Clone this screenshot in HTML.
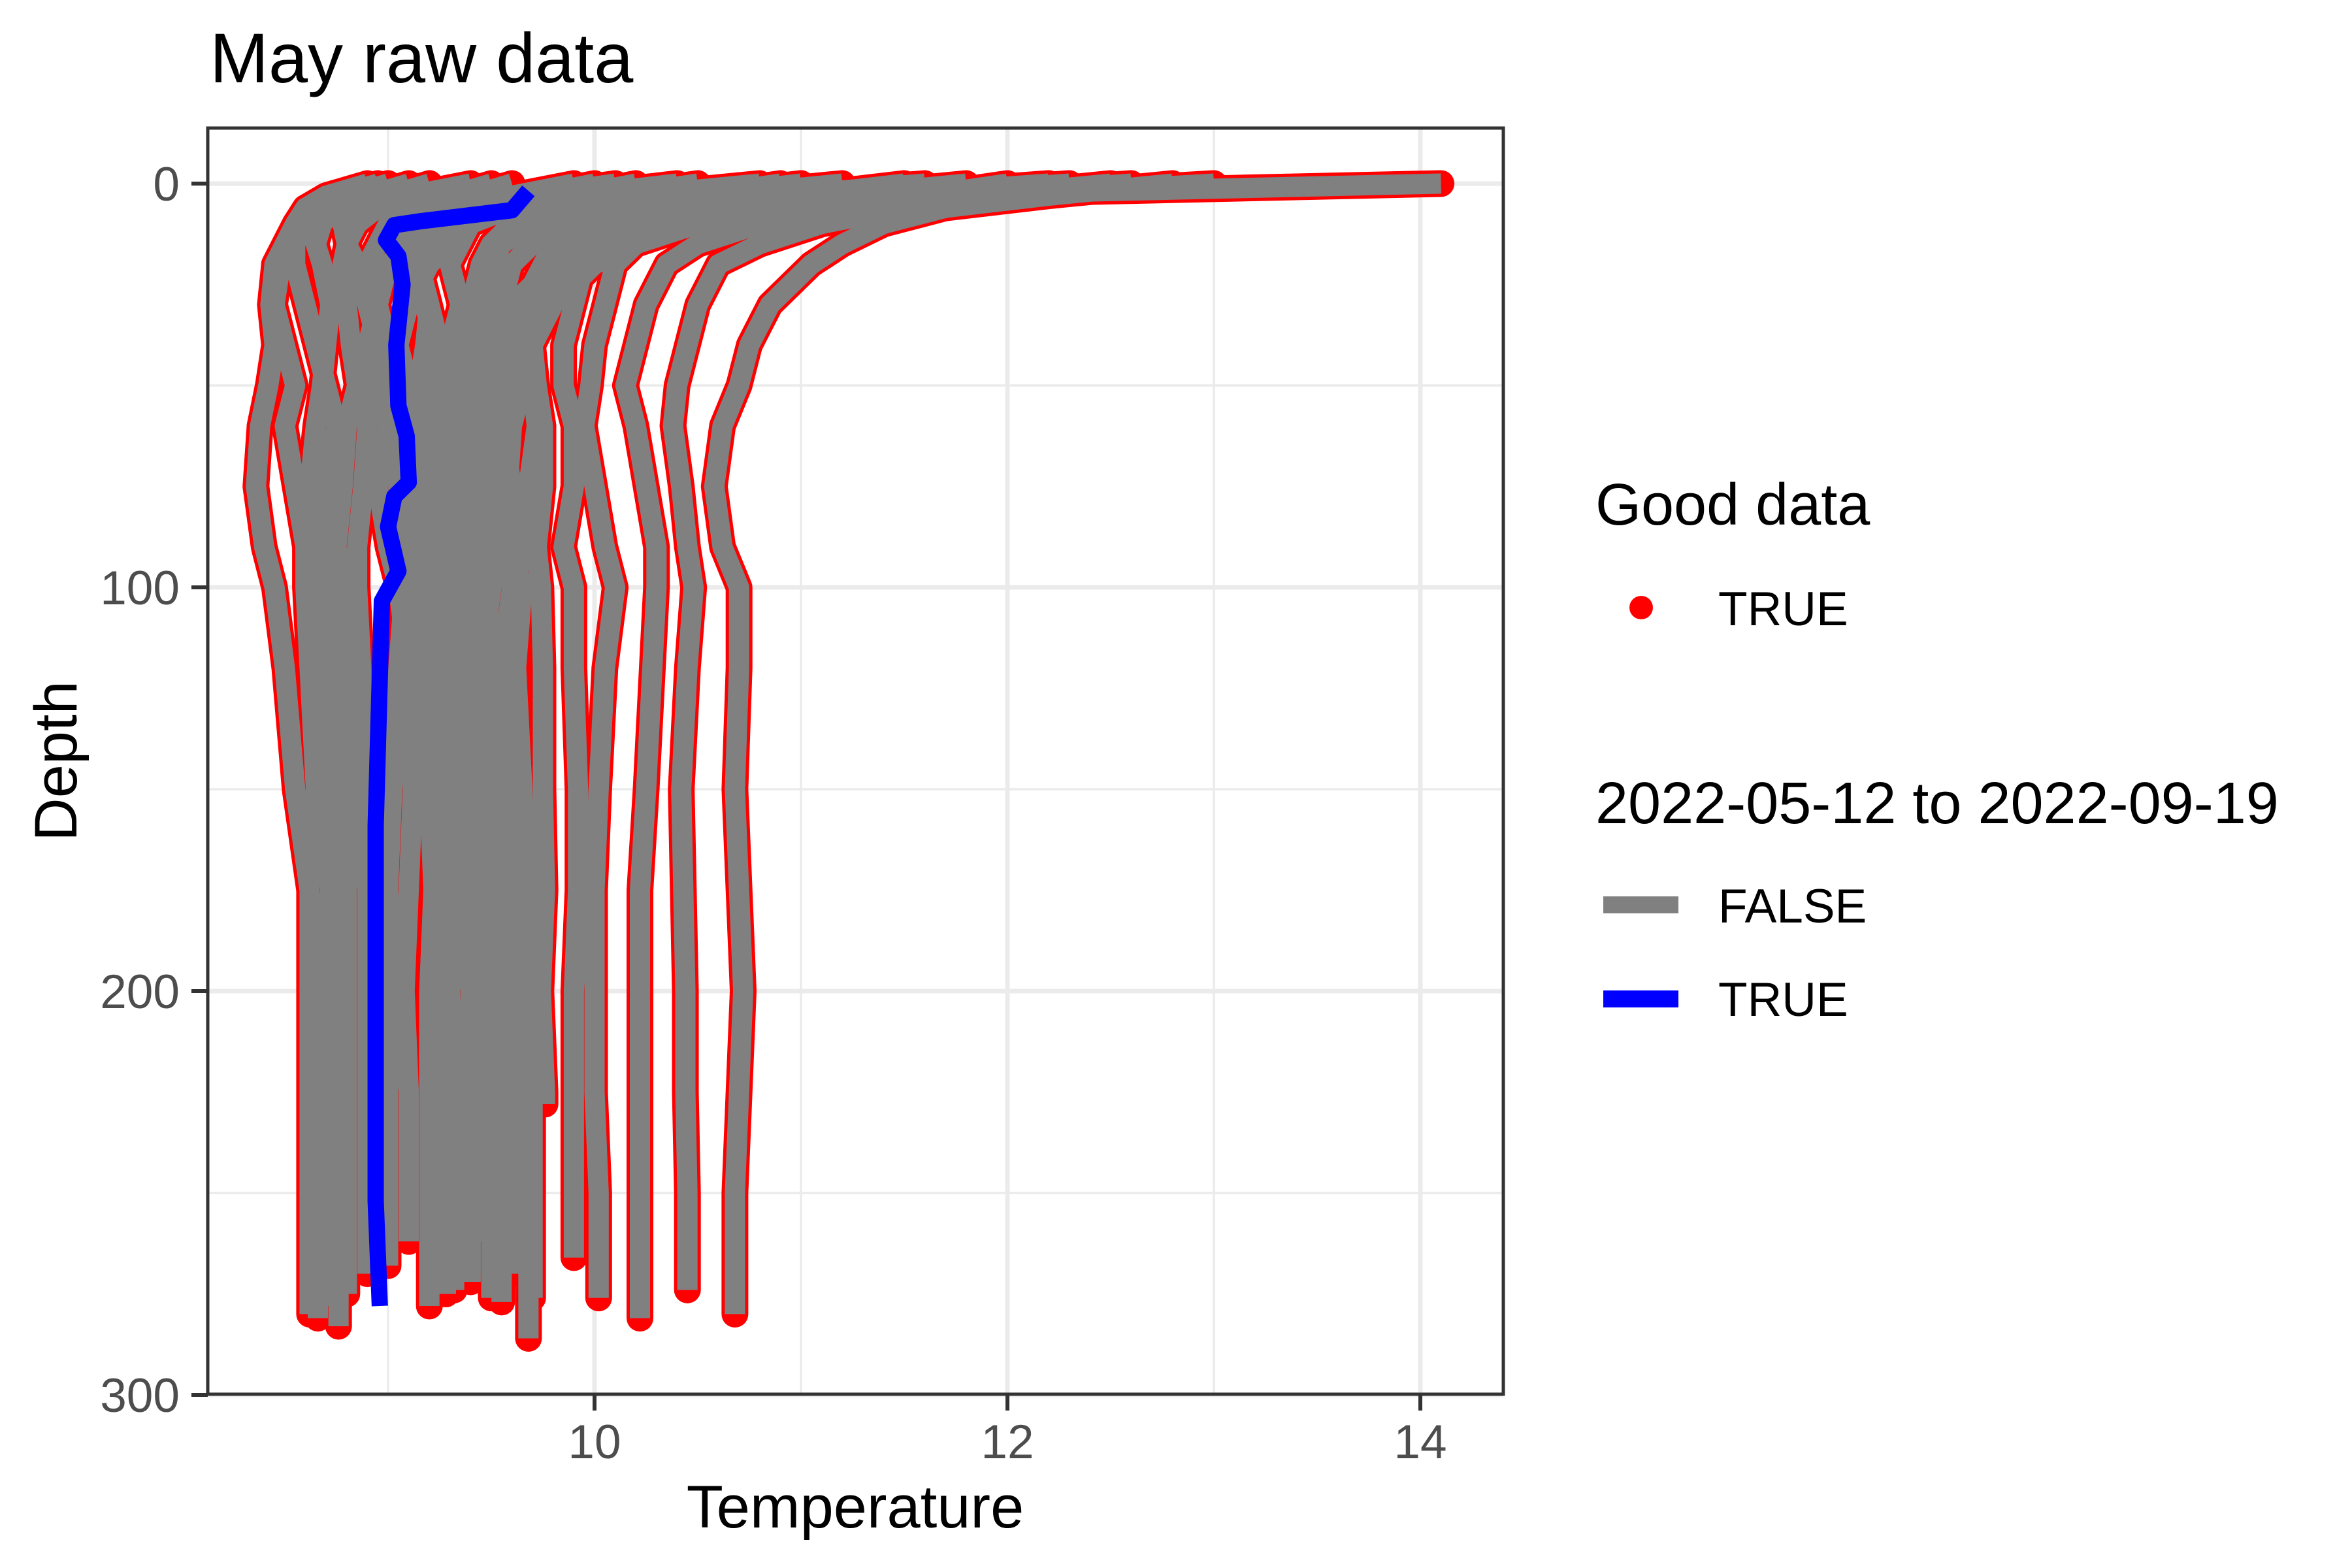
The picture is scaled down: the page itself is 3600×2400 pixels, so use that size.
<!DOCTYPE html>
<html><head><meta charset="utf-8"><style>
html,body{margin:0;padding:0;background:#fff;}
svg{display:block;font-family:"Liberation Sans",Arial,sans-serif;}
</style></head><body>
<svg id="chart" width="3600" height="2400" viewBox="0 0 3600 2400" xmlns="http://www.w3.org/2000/svg">
<rect width="3600" height="2400" fill="#fff"/>
<text x="321" y="126" font-size="108" fill="#000">May raw data</text>
<defs><clipPath id="pc"><rect x="318" y="196" width="1983" height="1938"/></clipPath></defs>
<rect x="318" y="196" width="1983" height="1938" fill="#fff"/>
<g id="grid"></g>
<g id="marks" clip-path="url(#pc)"></g>
<rect x="318" y="196" width="1983" height="1938" fill="none" stroke="#333" stroke-width="5"/>
<g id="axes"></g>
<text x="1309" y="2338" font-size="92" text-anchor="middle" fill="#000">Temperature</text>
<text transform="translate(117,1165) rotate(-90)" font-size="92" text-anchor="middle" fill="#000">Depth</text>
<g>
<text x="2442" y="803" font-size="90" fill="#000">Good data</text>
<circle cx="2512" cy="930" r="18" fill="#ff0000"/>
<text x="2630" y="957" font-size="73" fill="#000">TRUE</text>
<text x="2442" y="1260" font-size="90" fill="#000">2022-05-12 to 2022-09-19</text>
<rect x="2454" y="1372" width="115" height="26" fill="#808080"/>
<text x="2630" y="1412" font-size="73" fill="#000">FALSE</text>
<rect x="2454" y="1516" width="115" height="26" fill="#0000ff"/>
<text x="2630" y="1555" font-size="73" fill="#000">TRUE</text>
</g>
</svg>
<script>
const depthLevels = [0,3,6,10,15,20,30,40,50,60,75,90,100,120,150,175,200,225,250];
const profileTemps = [
 [12.8,12.2,11.7,11.4,11.2,11.05,10.85,10.75,10.7,10.62,10.58,10.62,10.7,10.7,10.68,10.7,10.72,10.7,10.68],
 [14.1,11.5,10.8,10.4,10.1,9.95,9.8,9.7,9.65,9.6,9.55,9.6,9.65,9.62,9.65,9.66,9.66,9.67,9.68],
 [12.5,11.9,11.5,11.1,10.8,10.6,10.5,10.45,10.4,10.38,10.42,10.45,10.48,10.45,10.42,10.43,10.44,10.44,10.45],
 [12.0,11.6,11.2,10.8,10.5,10.35,10.25,10.2,10.15,10.2,10.25,10.3,10.3,10.28,10.25,10.22,10.22,10.22,10.22],
 [11.5,11.0,10.7,10.4,10.2,10.1,10.05,10.0,9.98,9.95,10.0,10.05,10.1,10.05,10.02,10.0,10.0,10.0,10.02],
 [11.0,10.6,10.3,10.1,10.0,9.95,9.9,9.85,9.85,9.9,9.9,9.85,9.9,9.9,9.92,9.92,9.9,9.9,9.9],
 [10.9,10.5,10.2,9.9,9.8,9.75,9.72,9.7,9.72,9.75,9.75,9.72,9.74,9.75,9.75,9.76,9.74,9.76],
 [10.5,10.1,9.8,9.6,9.5,9.45,9.5,9.55,9.5,9.45,9.5,9.55,9.6,9.55,9.5,9.5,9.52,9.52,9.5],
 [10.2,9.9,9.6,9.4,9.35,9.3,9.35,9.4,9.45,9.4,9.35,9.38,9.4,9.42,9.4,9.4,9.42,9.4,9.4],
 [9.6,9.4,9.3,9.25,9.2,9.15,9.2,9.25,9.3,9.28,9.25,9.2,9.22,9.25,9.25,9.22,9.2,9.2,9.2],
 [9.2,9.1,9.05,9.05,9.1,9.15,9.2,9.18,9.15,9.2,9.25,9.3,9.32,9.3,9.3,9.3,9.3,9.28,9.28],
 [9.0,8.85,8.8,8.78,8.8,8.85,8.9,8.95,8.92,8.9,8.88,8.85,8.85,8.87,8.88,8.9,8.9,8.9,8.9],
 [9.0,8.8,8.65,8.6,8.55,8.55,8.6,8.65,8.7,8.75,8.7,8.7,8.72,8.75,8.75,8.76,8.76,8.76,8.76],
 [8.95,8.75,8.6,8.55,8.5,8.48,8.45,8.5,8.55,8.5,8.55,8.6,8.6,8.62,8.65,8.62,8.62,8.62,8.62],
 [9.2,9.0,8.75,8.6,8.5,8.45,8.43,8.45,8.42,8.38,8.36,8.4,8.45,8.5,8.55,8.62,8.66,8.66,8.66],
 [8.9,8.7,8.6,8.55,8.5,8.45,8.45],
 [11.8,11.2,10.8,10.3,10.0,9.8,9.6,9.5,9.45,9.5,9.55,9.5,9.5,9.45,9.45,9.48,9.5,9.5,9.5],
 [10.0,9.7,9.5,9.4,9.3,9.2,9.1,9.05,9.1,9.15,9.2,9.25,9.3,9.35,9.3,9.28,9.3,9.32,9.3],
 [12.3,11.5,10.9,10.4,10.2,10.0,9.8,9.7,9.6,9.55,9.6,9.65,9.62,9.6,9.6,9.62,9.62,9.6,9.6],
 [9.5,9.3,9.1,9.0,8.95,8.9,8.95,9.0,9.05,9.0,8.95,9.0,9.05,9.1,9.12,9.1,9.08,9.1,9.1],
 [11.2,10.6,10.2,9.9,9.7,9.6,9.45,9.35,9.3,9.35,9.4,9.45,9.42,9.38,9.36,9.38,9.4,9.4,9.4],
 [13.0,12.0,11.0,10.5,10.2,9.95,9.7,9.55,9.5,9.45,9.5,9.55,9.5,9.45,9.5,9.55,9.55,9.55,9.55],
 [9.9,9.6,9.4,9.3,9.25,9.3,9.35,9.3,9.25,9.3,9.35,9.4,9.35,9.3,9.32,9.35,9.3,9.3,9.32],
 [10.8,10.2,9.8,9.6,9.5,9.45,9.4,9.45,9.5,9.55,9.5,9.45,9.48,9.5,9.52,9.5,9.5,9.48,9.5],
 [11.6,10.9,10.3,9.9,9.7,9.6,9.55,9.6,9.65,9.6,9.58,9.62,9.6,9.58,9.6,9.6,9.62,9.6,9.6],
 [12.6,11.8,11.0,10.4,10.0,9.8,9.6,9.45,9.35,9.3,9.25,9.3,9.28,9.25,9.22,9.25,9.25,9.22,9.22],
 [9.4,9.1,8.95,8.85,8.8,8.78,8.8,8.82,8.85,8.8,8.78,8.75,8.78,8.8,8.82,8.8,8.8,8.8,8.8],
 [10.4,9.9,9.6,9.3,9.1,9.0,8.95,8.9,8.95,9.0,9.05,9.1,9.08,9.05,9.02,9.0,9.02,9.0,9.0],
 [11.0,10.5,10.0,9.7,9.55,9.5,9.55,9.6,9.7,9.72,9.68,9.65,9.6,9.62,9.65,9.68,9.7,9.7,9.7],
 [12.2,11.4,10.8,10.2,9.9,9.75,9.65,9.6,9.55,9.5,9.45,9.4,9.38,9.4,9.42,9.45,9.45,9.45,9.45],
 [9.1,8.9,8.75,8.68,8.65,8.68,8.72,8.7,8.68,8.65,8.62,8.65,8.68,8.7,8.7,8.72,8.72,8.72,8.72],
 [10.1,9.7,9.35,9.15,9.1,9.12,9.18,9.22,9.2,9.18,9.15,9.12,9.15,9.18,9.2,9.22,9.2,9.2,9.22]
];
const profileEndDepths = [280,286,274,281,276,266,228,276,272,278,275,270,283,280,281,31,273,268,270,262,270,277,274,271,268,272,275,268,276,262,278,265];
const blueTemps = [9.68,9.6,9.16,9.03,8.99,9.05,9.07,9.04,9.05,9.09,9.10,9.03,9.0,9.05,8.97,8.96,8.94,8.94,8.94,8.96];
const blueDepths = [1.8,6.6,9.3,10.3,14,18,25,40,55,62.5,74,77.5,85,96,103.4,122,159,215,252,278];
const xTicks = [10,12,14];
const xMinor = [9,11,13];
const yTicks = [0,100,200,300];
const yMinor = [50,150,250];

const NS = "http://www.w3.org/2000/svg";
function xs(t){ return 910 + (t - 10) * 316; }
function ys(d){ return 281 + d * 6.18; }
function mk(tag, attrs, parent){ const e = document.createElementNS(NS, tag); for (const k in attrs) e.setAttribute(k, attrs[k]); parent.appendChild(e); return e; }

const grid = document.getElementById('grid');
const axes = document.getElementById('axes');
const marks = document.getElementById('marks');

xMinor.forEach(v => { const l = mk('line', {x1:xs(v), x2:xs(v), y1:196, y2:2134, stroke:'#ebebeb', 'stroke-width':3.5}, grid);
 
  });
yMinor.forEach(v => { const l = mk('line', {x1:318, x2:2301, y1:ys(v), y2:ys(v), stroke:'#ebebeb', 'stroke-width':3.5}, grid);
 
  });
xTicks.forEach(v => {
 const l = mk('line', {x1:xs(v), x2:xs(v), y1:196, y2:2134, stroke:'#ebebeb', 'stroke-width':7}, grid);
 
 
 const t = mk('line', {x1:xs(v), x2:xs(v), y1:2134, y2:2159, stroke:'#333', 'stroke-width':6}, axes);
 
 
 const tx = mk('text', {x:xs(v), y:2232, 'font-size':73, 'text-anchor':'middle', fill:'#4d4d4d'}, axes);
 tx.textContent = v;
 
 
});
yTicks.forEach(v => {
 const l = mk('line', {x1:318, x2:2301, y1:ys(v), y2:ys(v), stroke:'#ebebeb', 'stroke-width':7}, grid);
 
 
 const t = mk('line', {x1:293, x2:318, y1:ys(v), y2:ys(v), stroke:'#333', 'stroke-width':6}, axes);
 
 
 const tx = mk('text', {x:275, y:ys(v) + 26, 'font-size':73, 'text-anchor':'end', fill:'#4d4d4d'}, axes);
 tx.textContent = v;
 
 
});

function profilePoints(i){
 const temps = profileTemps[i];
 const pts = temps.map((t, j) => [xs(t), ys(depthLevels[j])]);
 pts.push([xs(temps[temps.length - 1]), ys(profileEndDepths[i])]);
 return pts;
}
const allPts = profileTemps.map((_, i) => profilePoints(i));
const redG = mk('g', {}, marks);


allPts.forEach(pts => {
 const p = mk('polyline', {points: pts.map(p => p.join(',')).join(' '), fill:'none', stroke:'#ff0000', 'stroke-width':41, 'stroke-linejoin':'round', 'stroke-linecap':'round'}, redG);
 
 
 pts.forEach(q => { const c = mk('circle', {cx:q[0], cy:q[1], r:19, fill:'#ff0000'}, redG);
  
   });
});
const grayG = mk('g', {}, marks);


allPts.forEach(pts => {
 const p = mk('polyline', {points: pts.map(p => p.join(',')).join(' '), fill:'none', stroke:'#808080', 'stroke-width':31, 'stroke-linejoin':'round', 'stroke-linecap':'butt'}, grayG);
 
 
});
const bluePts = blueTemps.map((t, j) => xs(t) + ',' + ys(blueDepths[j])).join(' ');
const blue = mk('polyline', {points: bluePts, fill:'none', stroke:'#0000ff', 'stroke-width':25, 'stroke-linejoin':'round', 'stroke-linecap':'butt'}, marks);


</script>
</body></html>
